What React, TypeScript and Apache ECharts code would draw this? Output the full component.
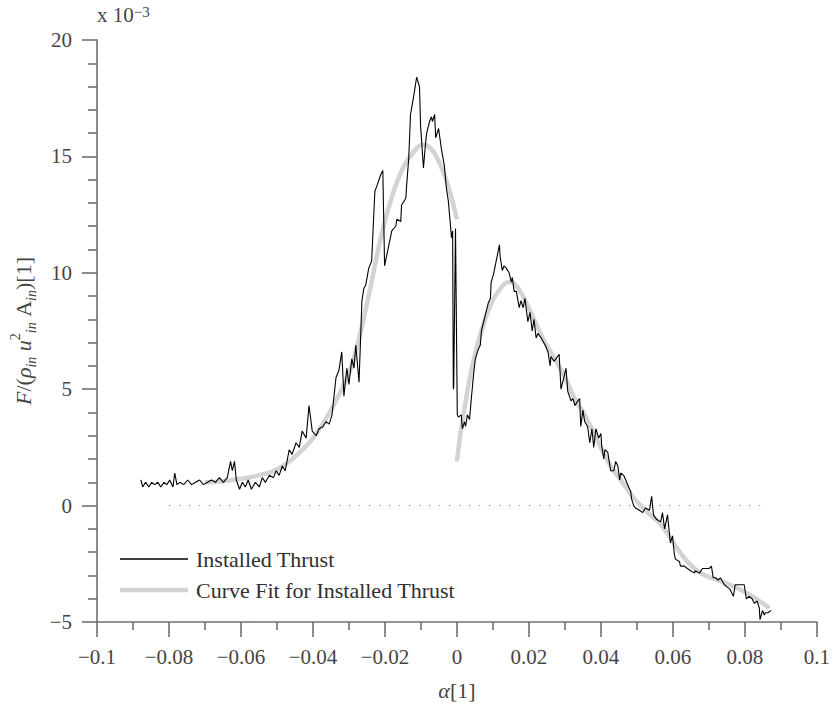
import React, { useEffect, useRef } from "react";
import * as echarts from "echarts";

const installedX = [
  -0.0878, -0.0873, -0.0865, -0.0856, -0.0848, -0.084, -0.0831, -0.0823, -0.0814, -0.0806,
  -0.0798, -0.0789, -0.0784, -0.0778, -0.077, -0.0759, -0.0748, -0.0737, -0.0726, -0.0715,
  -0.0704, -0.0693, -0.0682, -0.0671, -0.066, -0.0649, -0.0638, -0.0629, -0.0624, -0.0618,
  -0.0613, -0.0604, -0.0596, -0.0588, -0.058, -0.0571, -0.056, -0.0549, -0.0541, -0.0532,
  -0.0521, -0.051, -0.0502, -0.0494, -0.0485, -0.0477, -0.0466, -0.0458, -0.0447, -0.0438,
  -0.043, -0.0419, -0.0411, -0.0402, -0.0391, -0.0383, -0.0372, -0.0364, -0.0355, -0.0347,
  -0.0336, -0.0328, -0.032, -0.0314, -0.0306, -0.03, -0.0292, -0.0286, -0.0281, -0.0272,
  -0.0264, -0.0259, -0.0253, -0.0245, -0.0237, -0.0228, -0.0223, -0.0212, -0.0206, -0.0201,
  -0.0189, -0.0181, -0.017, -0.0167, -0.0156, -0.0154, -0.0142, -0.014, -0.0134, -0.0129,
  -0.012, -0.0112, -0.0104, -0.0101, -0.0093, -0.0087, -0.0084, -0.0076, -0.0071, -0.0068,
  -0.0062, -0.0059, -0.0051, -0.0043, -0.0035, -0.0029, -0.0024, -0.0015, -0.0012, -0.001,
  -0.0009, -0.0004, 0.0001, 0.0004, 0.0012, 0.0015, 0.0021, 0.0024, 0.0029, 0.0035,
  0.004, 0.0046, 0.0051, 0.0059, 0.0065, 0.0068, 0.0079, 0.0087, 0.0093, 0.0095,
  0.0101, 0.0109, 0.0118, 0.012, 0.0126, 0.0131, 0.0137, 0.0145, 0.0151, 0.0154,
  0.0159, 0.0165, 0.0173, 0.0178, 0.0184, 0.0189, 0.0197, 0.0203, 0.0209, 0.0214,
  0.022, 0.0225, 0.0234, 0.0245, 0.0253, 0.0259, 0.0261, 0.027, 0.0275, 0.0284,
  0.0289, 0.0297, 0.0303, 0.0308, 0.0317, 0.0322, 0.0328, 0.0336, 0.0341, 0.0344,
  0.035, 0.0355, 0.0363, 0.0369, 0.0375, 0.038, 0.0386, 0.0394, 0.04, 0.0402,
  0.0408, 0.0411, 0.0419, 0.0425, 0.0427, 0.0436, 0.0441, 0.0447, 0.0452, 0.0455,
  0.0463, 0.0469, 0.0477, 0.0483, 0.0485, 0.0491, 0.0496, 0.0507, 0.0516, 0.0524,
  0.0535, 0.0541, 0.0546, 0.0555, 0.0566, 0.0571, 0.0577, 0.0585, 0.0591, 0.0593,
  0.0599, 0.0604, 0.0607, 0.0618, 0.0621, 0.0632, 0.064, 0.0649, 0.066, 0.0662,
  0.0674, 0.0682, 0.069, 0.0701, 0.0707, 0.0712, 0.0718, 0.0726, 0.0732, 0.0743,
  0.0751, 0.0759, 0.0768, 0.0773, 0.0784, 0.0793, 0.0798, 0.0804, 0.0812, 0.082,
  0.0826, 0.0834, 0.084, 0.0842, 0.0849, 0.0854, 0.0857, 0.0864, 0.0873,
];
const installedY = [
  1.1, 0.8, 1.0, 0.8, 1.0, 0.9, 1.0, 0.8, 1.0, 0.9,
  1.1, 0.8, 1.4, 0.9, 1.0, 0.9, 1.1, 0.9, 1.0, 1.1,
  0.9, 1.0, 1.1, 1.0, 1.2, 1.0, 1.2, 1.9, 1.5, 1.9,
  1.1, 0.7, 1.0, 0.8, 1.1, 0.7, 1.0, 0.8, 1.2, 1.0,
  1.3, 1.2, 1.5, 1.3, 1.7, 1.5, 2.4, 2.2, 2.7, 2.5,
  3.2, 2.9, 4.3, 3.2, 3.0, 3.3, 3.4, 3.6, 3.5, 3.9,
  5.5, 5.8, 6.6, 4.7, 5.9, 5.2, 6.3, 5.9, 6.9, 5.3,
  8.8, 9.3, 9.5, 10.2, 10.5, 13.5, 13.7, 14.2, 14.4, 10.3,
  11.2, 11.8, 12.0, 12.3, 12.2, 12.9, 13.2, 13.7, 14.9, 16.8,
  17.6, 18.4, 18.0, 16.3, 14.5, 15.6, 16.0, 16.5, 16.7, 16.5,
  16.8, 15.8, 16.2, 15.3, 14.6, 13.6, 13.1, 11.5, 11.8, 5.0,
  5.1, 11.9, 3.9, 3.8, 3.9, 3.3, 3.6, 3.4, 3.9, 3.7,
  4.6, 5.6, 6.3, 6.7, 6.9, 7.5, 8.2, 8.7, 8.9, 9.6,
  9.9, 10.5, 11.2, 10.7, 10.1, 10.3, 10.2, 10.0, 9.6, 9.8,
  9.2, 9.2, 8.5, 8.8, 8.5, 8.9, 7.9, 8.3, 7.5, 8.0,
  7.2, 7.4, 7.2, 6.9, 6.6, 6.0, 6.4, 6.2, 6.3, 6.5,
  5.0, 5.5, 5.9, 4.9, 4.5, 4.6, 4.3, 4.5, 4.6, 3.4,
  4.1, 3.6, 3.4, 2.7, 3.3, 2.5, 3.3, 2.9, 3.1, 2.6,
  2.0, 2.4, 2.3, 1.7, 1.5, 1.5, 1.9, 1.7, 1.1, 1.4,
  1.3, 1.1, 0.8, 0.6, 0.3, 0.0, -0.1, -0.2, -0.3, -0.1,
  -0.2, 0.4, -0.4, -0.6, -0.7, -0.3, -1.0, -0.4, -1.3, -1.6,
  -1.3, -2.1, -2.3, -2.4, -2.6, -2.6, -2.7, -2.8, -2.9, -2.8,
  -2.9, -2.7, -2.7, -2.7, -2.6, -3.1, -3.1, -3.2, -3.1, -3.4,
  -3.5, -3.6, -3.9, -3.4, -3.4, -3.4, -3.4, -4.0, -3.9, -4.0,
  -4.2, -4.1, -4.4, -4.9, -4.5, -4.7, -4.6, -4.6, -4.5,
];

const fitLeftX = [
  -0.07, -0.065, -0.06, -0.055, -0.05, -0.045, -0.04, -0.035, -0.03, -0.027,
  -0.024, -0.021, -0.018, -0.015, -0.012, -0.0095, -0.007, -0.0045, -0.0022, 0.0,
];
const fitLeftY = [
  1.0, 1.05, 1.15, 1.3, 1.55, 2.1, 2.9, 4.1, 5.7, 7.3,
  9.4, 11.6, 13.3, 14.5, 15.2, 15.5, 15.3, 14.6, 13.6, 12.3,
];
const fitRightX = [
  0.0, 0.0013, 0.004, 0.0068, 0.0093, 0.0115, 0.0144, 0.0162, 0.019, 0.0217,
  0.0245, 0.0272, 0.03, 0.0327, 0.0355, 0.039, 0.0427, 0.046, 0.0493, 0.0537,
  0.056, 0.0585, 0.061, 0.064, 0.0677, 0.0715, 0.075, 0.0787, 0.0826, 0.0868,
];
const fitRightY = [
  1.9, 3.4, 5.8, 7.5, 8.6, 9.2, 9.6, 9.5, 8.8, 7.9,
  7.0, 6.3, 5.5, 4.6, 3.9, 2.8, 1.7, 1.0, 0.3, -0.4,
  -0.7, -1.2, -1.8, -2.4, -2.9, -3.15, -3.35, -3.6, -3.95, -4.4,
];

const zeroLineX = [-0.08, 0.086];
const zeroLineY = [0, 0];

const xTicks = { min: -0.1, max: 0.1, interval: 0.02 };
const yTicks = { min: -5, max: 20, interval: 5 };

const seriesNames = ["Installed Thrust", "Curve Fit for Installed Thrust"];

const zip = (xs: number[], ys: number[]) => xs.map((x, i) => [x, ys[i]]);

const FONT = "'Liberation Serif', 'Times New Roman', serif";
const TEXT = "#454545";
const AXIS = "#707070";
const FIT = "#d3d3d3";

const fmt = (v: number) => {
  const r = Number(v.toFixed(3));
  if (r === 0) return "0";
  return r < 0 ? "\u2212" + String(Math.abs(r)) : String(r);
};

// legend icons: a horizontal bar inside a 68x20 box (tiny corner dots fix the box size)
const barIcon = (thick: number) => {
  const y0 = 10 - thick / 2;
  return `path://M0,0h0.01v0.01h-0.01z M0,${y0}h68v${thick}h-68z M67.99,19.99h0.01v0.01h-0.01z`;
};

export default function App() {
  const ref = useRef<HTMLDivElement>(null);
  useEffect(() => {
    if (!ref.current) return;
    const chart = echarts.init(ref.current, null, { renderer: "svg" });
    chart.setOption({
      animation: false,
      backgroundColor: "#ffffff",
      grid: { left: 97, right: 13, top: 40, bottom: 89, containLabel: false },
      legend: {
        orient: "vertical",
        left: 120,
        top: 548,
        padding: 0,
        itemWidth: 68,
        itemHeight: 20,
        itemGap: 9,
        data: [
          { name: seriesNames[0], icon: barIcon(1.3), itemStyle: { color: "#000000", borderWidth: 0 } },
          { name: seriesNames[1], icon: barIcon(4.5), itemStyle: { color: FIT, borderWidth: 0 } },
        ],
        textStyle: { fontFamily: FONT, fontSize: 22, color: "#303030", padding: [0, 0, 0, 3] },
      },
      graphic: [
        {
          type: "text",
          left: 97,
          top: 4,
          style: {
            text: "x 10{sup|\u22123}",
            font: `21px ${FONT}`,
            fill: TEXT,
            rich: {
              sup: { fontSize: 15, fontFamily: FONT, fill: TEXT, verticalAlign: "top", lineHeight: 10 },
            },
          },
        },
      ],
      xAxis: {
        type: "value",
        min: xTicks.min,
        max: xTicks.max,
        interval: xTicks.interval,
        name: "{i|\u03b1}[1]",
        nameLocation: "middle",
        nameGap: 57,
        nameTextStyle: {
          fontFamily: FONT,
          fontSize: 22,
          color: TEXT,
          rich: { i: { fontFamily: FONT, fontSize: 22, fontStyle: "italic", color: TEXT } },
        },
        axisLine: { show: true, onZero: false, lineStyle: { color: AXIS, width: 1.6 } },
        axisTick: { show: true, inside: false, length: 15, lineStyle: { color: AXIS, width: 1.6 } },
        minorTick: { show: true, splitNumber: 2, length: 8, lineStyle: { color: AXIS, width: 1.6 } },
        splitLine: { show: false },
        axisLabel: { fontFamily: FONT, fontSize: 21, color: TEXT, margin: 24, formatter: fmt },
      },
      yAxis: {
        type: "value",
        min: yTicks.min,
        max: yTicks.max,
        interval: yTicks.interval,
        name: "{i|F}/({i|\u03c1}{sub|in} {i|u}{sup|2}{sub|in} {m|A}{sub|in}{m|)[1]}",
        nameLocation: "middle",
        nameRotate: 90,
        nameGap: 54,
        nameTextStyle: {
          fontFamily: FONT,
          fontSize: 22,
          color: TEXT,
          lineHeight: 30,
          rich: {
            i: { fontFamily: FONT, fontSize: 22, fontStyle: "italic", color: TEXT, lineHeight: 30 },
            m: { fontFamily: FONT, fontSize: 22, color: TEXT, lineHeight: 30 },
            sub: { fontFamily: FONT, fontSize: 14, fontStyle: "italic", color: TEXT, verticalAlign: "bottom", lineHeight: 14 },
            sup: { fontFamily: FONT, fontSize: 14, color: TEXT, verticalAlign: "top", lineHeight: 14 },
          },
        },
        axisLine: { show: true, onZero: false, lineStyle: { color: AXIS, width: 1.6 } },
        axisTick: { show: true, inside: false, length: 15, lineStyle: { color: AXIS, width: 1.6 } },
        minorTick: { show: true, splitNumber: 5, length: 9, lineStyle: { color: AXIS, width: 1.6 } },
        splitLine: { show: false },
        axisLabel: { fontFamily: FONT, fontSize: 21, color: TEXT, margin: 25, formatter: fmt },
      },
      series: [
        {
          name: "zero",
          type: "line",
          data: zip(zeroLineX, zeroLineY),
          symbol: "none",
          silent: true,
          lineStyle: { color: "#8a8a8a", width: 1, type: [1.2, 8.8] },
          z: 1,
        },
        {
          name: seriesNames[1],
          type: "line",
          data: zip(fitLeftX, fitLeftY),
          symbol: "none",
          smooth: 0.4,
          color: FIT,
          lineStyle: { color: FIT, width: 4.5 },
          z: 2,
        },
        {
          name: seriesNames[1],
          type: "line",
          data: zip(fitRightX, fitRightY),
          symbol: "none",
          smooth: 0.4,
          color: FIT,
          lineStyle: { color: FIT, width: 4.5 },
          z: 2,
        },
        {
          name: seriesNames[0],
          type: "line",
          data: zip(installedX, installedY),
          symbol: "none",
          color: "#000000",
          lineStyle: { color: "#000000", width: 1.1 },
          z: 3,
        },
      ],
    });
    return () => chart.dispose();
  }, []);
  return (
    <div
      ref={ref}
      style={{ position: "fixed", left: 0, top: 0, width: 833, height: 711, background: "#fff" }}
    />
  );
}
